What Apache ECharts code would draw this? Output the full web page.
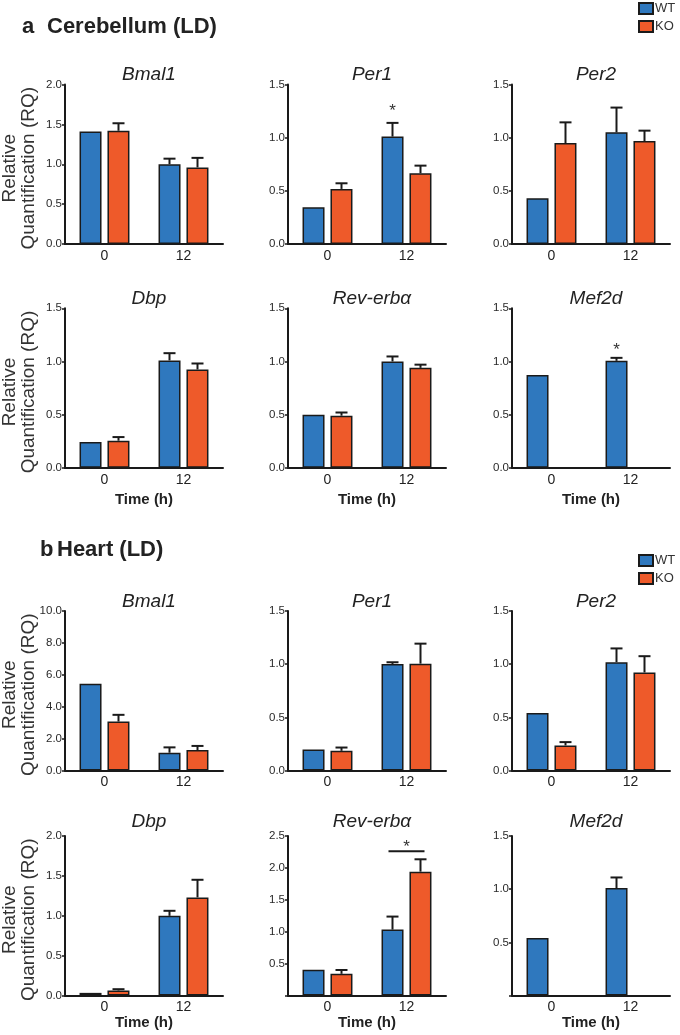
<!DOCTYPE html>
<html>
<head>
<meta charset="utf-8">
<script src="https://cdn.jsdelivr.net/npm/echarts@6/dist/echarts.min.js"></script>
<style>
  html, body { margin: 0; padding: 0; background: #fff; }
  #chart { width: 680px; height: 1035px; }
</style>
</head>
<body>
<div id="chart"></div>
<script>
// x categories (time, h)
const times = ['0', '12'];
const genes = ['Bmal1', 'Per1', 'Per2', 'Dbp', 'Rev-erbα', 'Mef2d'];

// a  Cerebellum (LD) -- [0 h, 12 h]
const cbWT = [[1.41, 1.00], [0.345, 1.01], [0.43, 1.05], [0.242, 1.01], [0.50, 1.00], [0.873, 1.006]];
const cbKO = [[1.42, 0.96], [0.518, 0.665], [0.949, 0.968], [0.255, 0.925], [0.49, 0.94], [null, null]];
const cbWTErr = [[null, 1.07], [null, 1.139], [null, 1.283], [null, 1.078], [null, 1.047], [null, 1.034]];
const cbKOErr = [[1.514, 1.08], [0.571, 0.737], [1.144, 1.066], [0.289, 0.981], [0.52, 0.97], [null, null]];
const cbYMax = [2.0, 1.5, 1.5, 1.5, 1.5, 1.5];
const cbYStep = [0.5, 0.5, 0.5, 0.5, 0.5, 0.5];
const cbStar = [null, 1.29, null, null, null, 1.14];     // star over WT at 12 h
const cbBracket = [null, null, null, null, null, null];

// b  Heart (LD)
const htWT = [[5.44, 1.115], [0.197, 1.002], [0.54, 1.019], [0.033, 0.999], [0.402, 1.033], [0.54, 1.01]];
const htKO = [[3.07, 1.28], [0.185, 1.005], [0.236, 0.922], [0.063, 1.23], [0.34, 1.941], [null, null]];
const htWTErr = [[null, 1.45], [null, 1.018], [null, 1.148], [null, 1.062], [null, 1.237], [null, 1.11]];
const htKOErr = [[3.49, 1.54], [0.216, 1.193], [0.267, 1.075], [0.079, 1.451], [0.40, 2.135], [null, null]];
const htYMax = [10, 1.5, 1.5, 2.0, 2.5, 1.5];
const htYStep = [2, 0.5, 0.5, 0.5, 0.5, 0.5];
const htHideZero = [false, false, false, false, true, true];
const htStar = [null, null, null, null, 2.39, null];
const htBracket = [null, null, null, null, 2.26, null];

const BLUE = '#2F78BE';
const ORANGE = '#EE5A2A';
const INK = '#1a1a1a';
const FONT = '"Liberation Sans", Arial, Helvetica, sans-serif';

// layout
const colLeft = [65, 288, 512];
const plotW = 158, plotH = 159.5;
const rowTop = [84.5, 308.3, 611, 836];

const chart = echarts.init(document.getElementById('chart'));

const grids = [], xAxes = [], yAxes = [], series = [], titles = [];

function renderErr(params, api) {
  const top = api.value(2);
  if (top == null || isNaN(top)) return null;
  const side = api.value(3);
  const p0 = api.coord([api.value(0), api.value(1)]);
  const p1 = api.coord([api.value(0), top]);
  const cx = p0[0] + side * 14;
  return {
    type: 'group',
    children: [
      { type: 'line', shape: { x1: cx, y1: p0[1], x2: cx, y2: p1[1] }, style: { stroke: INK, lineWidth: 2 } },
      { type: 'line', shape: { x1: cx - 6, y1: p1[1], x2: cx + 6, y2: p1[1] }, style: { stroke: INK, lineWidth: 2 } }
    ]
  };
}

function renderSig(params, api) {
  const kids = [];
  const c = api.coord([api.value(0), api.value(1)]);
  const side = api.value(2);
  const br = api.value(3);
  if (br != null && !isNaN(br)) {
    const b = api.coord([api.value(0), br]);
    kids.push({ type: 'line', shape: { x1: b[0] - 18, y1: b[1], x2: b[0] + 18, y2: b[1] }, style: { stroke: INK, lineWidth: 2 } });
  }
  kids.push({
    type: 'text', x: c[0] + side * 14, y: c[1] + 4,
    style: { text: '*', fontSize: 17, fontFamily: FONT, fill: '#333', align: 'center', verticalAlign: 'middle' }
  });
  return { type: 'group', children: kids };
}

function addPanel(row, col, name, wt, ko, wtErr, koErr, ymax, ystep, hideZero, star, bracket, showTime, timeGap) {
  const gi = grids.length;
  const left = colLeft[col], top = rowTop[row];
  grids.push({ left: left, top: top, width: plotW, height: plotH, containLabel: false });
  xAxes.push({
    type: 'category', gridIndex: gi, data: times,
    axisLine: { lineStyle: { color: INK, width: 2 } },
    axisTick: { alignWithLabel: true, length: 4, lineStyle: { color: INK, width: 1.5 } },
    axisLabel: { fontSize: 14, color: '#222', margin: 5, fontFamily: FONT },
    name: showTime ? 'Time (h)' : '', nameLocation: 'middle', nameGap: timeGap,
    nameTextStyle: { fontSize: 15, fontWeight: 'bold', color: '#222', fontFamily: FONT }
  });
  yAxes.push({
    type: 'value', gridIndex: gi, min: 0, max: ymax, interval: ystep,
    splitLine: { show: false },
    axisLine: { show: true, lineStyle: { color: INK, width: 2 } },
    axisTick: { show: true, length: 3, lineStyle: { color: INK, width: 1.5 } },
    axisLabel: {
      fontSize: 11.5, color: '#2a2a2a', margin: 3, fontFamily: FONT,
      formatter: v => (hideZero && v === 0) ? '' : v.toFixed(1)
    }
  });
  titles.push({
    text: name, left: left + plotW / 2, top: top - (row === 3 ? 29 : 24), textAlign: 'center',
    textStyle: { fontSize: 19, fontStyle: 'italic', fontWeight: 'normal', color: '#222', fontFamily: FONT }
  });
  const barStyle = c => ({ color: c, borderColor: INK, borderWidth: 1.5 });
  series.push({
    name: 'WT', type: 'bar', xAxisIndex: gi, yAxisIndex: gi, data: wt,
    barWidth: 22, barGap: '27%', itemStyle: barStyle(BLUE)
  });
  series.push({
    name: 'KO', type: 'bar', xAxisIndex: gi, yAxisIndex: gi, data: ko,
    barWidth: 22, barGap: '27%', itemStyle: barStyle(ORANGE)
  });
  const errData = [];
  times.forEach((t, i) => {
    errData.push([i, wt[i], wtErr[i], -1]);
    errData.push([i, ko[i], koErr[i], 1]);
  });
  series.push({
    name: 'err', type: 'custom', xAxisIndex: gi, yAxisIndex: gi, z: 3,
    renderItem: renderErr, encode: { x: 0, y: 1 }, data: errData, silent: true
  });
  if (star != null) {
    series.push({
      name: 'sig', type: 'custom', xAxisIndex: gi, yAxisIndex: gi, z: 3,
      renderItem: renderSig, encode: { x: 0, y: 1 },
      data: [[1, star, bracket != null ? 0 : -1, bracket]], silent: true
    });
  }
}

for (let g = 0; g < 6; g++) {
  const row = g < 3 ? 0 : 1, col = g % 3;
  addPanel(row, col, genes[g], cbWT[g], cbKO[g], cbWTErr[g], cbKOErr[g], cbYMax[g], cbYStep[g],
    false, cbStar[g], cbBracket[g], row === 1, 25);
}
for (let g = 0; g < 6; g++) {
  const row = g < 3 ? 2 : 3, col = g % 3;
  addPanel(row, col, genes[g], htWT[g], htKO[g], htWTErr[g], htKOErr[g], htYMax[g], htYStep[g],
    htHideZero[g], htStar[g], htBracket[g], row === 3, 19);
}

const yNameStyle = { text: 'Relative\nQuantification (RQ)', fontSize: 19, lineHeight: 19, fontFamily: FONT, fill: '#333', align: 'center', verticalAlign: 'middle' };
const headStyle = { fontSize: 22, fontWeight: 'bold', fontFamily: FONT, fill: '#222', verticalAlign: 'middle' };

const graphics = rowTop.map(t => ({
  type: 'text', x: 19, y: t + plotH / 2 + 4, rotation: Math.PI / 2, style: yNameStyle
}));
graphics.push(
  { type: 'text', left: 22, top: 16, style: Object.assign({ text: 'a' }, headStyle) },
  { type: 'text', left: 47, top: 16, style: Object.assign({ text: 'Cerebellum (LD)' }, headStyle) },
  { type: 'text', left: 40, top: 539, style: Object.assign({ text: 'b' }, headStyle) },
  { type: 'text', left: 57, top: 539, style: Object.assign({ text: 'Heart (LD)' }, headStyle) }
);

const legendBase = {
  data: ['WT', 'KO'], orient: 'vertical', left: 638, itemWidth: 14, itemHeight: 11, itemGap: 5,
  icon: 'rect', selectedMode: false, padding: 0,
  textStyle: { fontSize: 13, color: '#333', fontFamily: FONT, padding: [0, 0, 0, -3] }
};

chart.setOption({
  animation: false,
  title: titles,
  grid: grids,
  xAxis: xAxes,
  yAxis: yAxes,
  series: series,
  graphic: graphics,
  legend: [
    Object.assign({}, legendBase, { top: 2 }),
    Object.assign({}, legendBase, { top: 554 })
  ]
});
</script>
</body>
</html>
